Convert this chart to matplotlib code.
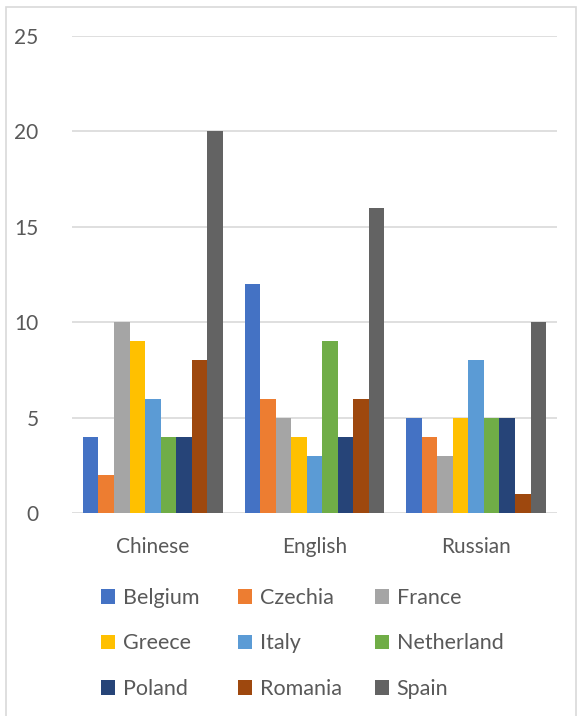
import matplotlib
matplotlib.use("Agg")
import matplotlib.pyplot as plt
import numpy as np
from matplotlib.patches import Rectangle

plt.rcParams["font.family"] = ["Lato", "DejaVu Sans"]

categories = ["Chinese", "English", "Russian"]
countries = ["Belgium", "Czechia", "France", "Greece", "Italy",
             "Netherland", "Poland", "Romania", "Spain"]
values = {
    "Belgium":    [4, 12, 5],
    "Czechia":    [2, 6, 4],
    "France":     [10, 5, 3],
    "Greece":     [9, 4, 5],
    "Italy":      [6, 3, 8],
    "Netherland": [4, 9, 5],
    "Poland":     [4, 4, 5],
    "Romania":    [8, 6, 1],
    "Spain":      [20, 16, 10],
}
colors = ["#4472C4", "#ED7D31", "#A5A5A5", "#FFC000", "#5B9BD5",
          "#70AD47", "#264478", "#9E480E", "#636363"]
yticks = [0, 5, 10, 15, 20, 25]

W, H = 582, 716
fig = plt.figure(figsize=(W / 100, H / 100), dpi=100)
fig.patches.append(Rectangle((6 / W, -0.01), 570 / W, 1.01 - 7 / H,
                             transform=fig.transFigure, fill=False,
                             edgecolor="#D9D9D9", lw=1.2))
ax = fig.add_axes([72 / W, (H - 513) / H, 485 / W, 477 / H])

n = len(countries)
x = np.arange(len(categories))
bw = 0.865 / n
handles = []
for i, (c, col) in enumerate(zip(countries, colors)):
    b = ax.bar(x - 0.865 / 2 + bw * (i + 0.5), values[c], width=bw, color=col,
               label=c, zorder=3)
    handles.append(b)

ax.set_xlim(-0.5, 2.5)
ax.set_ylim(0, 25)
ax.set_yticks(yticks)
ax.set_xticks(x)
ax.set_xticklabels(categories)
ax.grid(axis="y", color="#D9D9D9", lw=1.2, zorder=0)
for s in ax.spines.values():
    s.set_visible(False)
ax.tick_params(length=0, labelsize=15, colors="#595959")
ax.tick_params(axis="y", pad=24)
ax.tick_params(axis="x", pad=17)

# legend: three columns, filled row by row, equal column pitch
col_x = [101, 238, 375]
for j, cx in enumerate(col_x):
    hs = [handles[j + 3 * r] for r in range(3)]
    ls = [countries[j + 3 * r] for r in range(3)]
    leg = fig.legend(hs, ls, loc="upper left",
                     bbox_to_anchor=(cx / W, (H - 588) / H),
                     frameon=False, fontsize=15.5, handlelength=0.66,
                     handleheight=0.66, handletextpad=0.35,
                     labelspacing=1.18, borderpad=0, borderaxespad=0,
                     labelcolor="#595959")

fig.savefig("out.png", dpi=100)
